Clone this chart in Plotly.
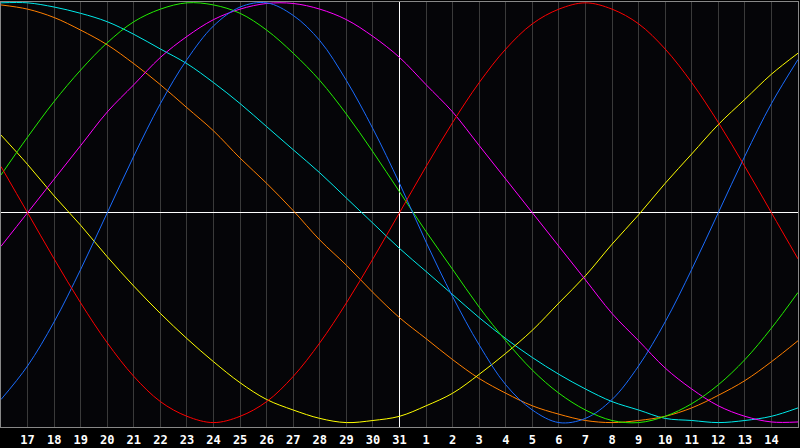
import plotly.graph_objects as go

# day offsets around the centre day (31), one value per day
offsets = list(range(-15, 16))
day_labels = [str(d) for d in range(16, 32)] + [str(d) for d in range(1, 16)]

physical = [-0.89, -0.73, -0.52, -0.27, 0.00, 0.27, 0.52, 0.73, 0.89, 0.98, 1.00, 0.94, 0.82, 0.63, 0.40, 0.14,
            -0.14, -0.40, -0.63, -0.82, -0.94, -1.00, -0.98, -0.89, -0.73, -0.52, -0.27, 0.00, 0.27, 0.52, 0.73]
emotional = [0.22, 0.00, -0.22, -0.43, -0.62, -0.78, -0.90, -0.97, -1.00, -0.97, -0.90, -0.78, -0.62, -0.43, -0.22, 0.00,
             0.22, 0.43, 0.62, 0.78, 0.90, 0.97, 1.00, 0.97, 0.90, 0.78, 0.62, 0.43, 0.22, 0.00, -0.22]
intellectual = [0.18, 0.36, 0.53, 0.68, 0.81, 0.91, 0.97, 1.00, 0.99, 0.95, 0.87, 0.76, 0.63, 0.47, 0.29, 0.10,
                -0.09, -0.27, -0.45, -0.61, -0.75, -0.86, -0.94, -0.99, -1.00, -0.97, -0.91, -0.82, -0.70, -0.55, -0.38]
intuitive = [-0.16, 0.00, 0.16, 0.32, 0.48, 0.61, 0.74, 0.84, 0.92, 0.97, 0.997, 0.997, 0.97, 0.92, 0.84, 0.74,
             0.61, 0.48, 0.32, 0.16, 0.00, -0.16, -0.32, -0.48, -0.61, -0.74, -0.84, -0.92, -0.97, -0.997, -0.997]
aesthetic = [0.37, 0.23, 0.08, -0.06, -0.21, -0.35, -0.48, -0.60, -0.71, -0.81, -0.89, -0.94, -0.98, -1.00, -0.99, -0.97,
             -0.92, -0.86, -0.77, -0.67, -0.56, -0.43, -0.30, -0.15, -0.01, 0.14, 0.28, 0.42, 0.54, 0.66, 0.76]
awareness = [0.99, 0.97, 0.93, 0.87, 0.80, 0.71, 0.61, 0.50, 0.39, 0.26, 0.14, 0.01, -0.13, -0.25, -0.38, -0.50,
             -0.60, -0.70, -0.79, -0.86, -0.92, -0.96, -0.99, -1.00, -0.99, -0.97, -0.93, -0.87, -0.80, -0.71, -0.61]
spiritual = [1.00, 1.00, 0.98, 0.95, 0.91, 0.85, 0.78, 0.71, 0.62, 0.52, 0.41, 0.30, 0.19, 0.07, -0.05, -0.17,
             -0.28, -0.39, -0.50, -0.60, -0.69, -0.77, -0.84, -0.90, -0.94, -0.98, -0.99, -1.00, -0.99, -0.97, -0.93]

cycles = [
    ("Spiritual", spiritual, "#00eaea"),
    ("Awareness", awareness, "#ff7f00"),
    ("Aesthetic", aesthetic, "#ffff00"),
    ("Intuitive", intuitive, "#ff00ff"),
    ("Intellectual", intellectual, "#22ee00"),
    ("Physical", physical, "#1a6cff"),
    ("Emotional", emotional, "#ff0000"),
]

fig = go.Figure()
for name, vals, col in cycles:
    fig.add_trace(go.Scatter(x=offsets, y=vals, name=name, mode="lines",
                             line=dict(color=col, width=1, shape="spline")))

ticktext = [""] + day_labels[1:-1] + [""]

fig.update_layout(
    width=800, height=448,
    margin=dict(l=1, r=1, t=1, b=20),
    paper_bgcolor="#000000",
    plot_bgcolor="#050508",
    showlegend=False,
)
fig.update_xaxes(range=[-15, 15], tickvals=offsets, ticktext=ticktext,
                 showgrid=True, gridcolor="#3a3a3a", gridwidth=1,
                 zeroline=True, zerolinecolor="#ffffff", zerolinewidth=1,
                 showline=True, linecolor="#888888", linewidth=1, mirror=True,
                 ticks="", ticklabelstandoff=2,
                 tickfont=dict(family="DejaVu Sans Mono", size=12, color="#ffffff", weight="bold"))
fig.update_yaxes(range=[-1.021, 1.004], showgrid=False, showticklabels=False,
                 zeroline=True, zerolinecolor="#ffffff", zerolinewidth=1,
                 showline=True, linecolor="#888888", linewidth=1, mirror=True, ticks="")

# page body has a default margin; drop it so the chart sits at the window corner
fig.write_html("out.html", config={"displayModeBar": False},
               post_script="document.body.style.margin='0px';")
